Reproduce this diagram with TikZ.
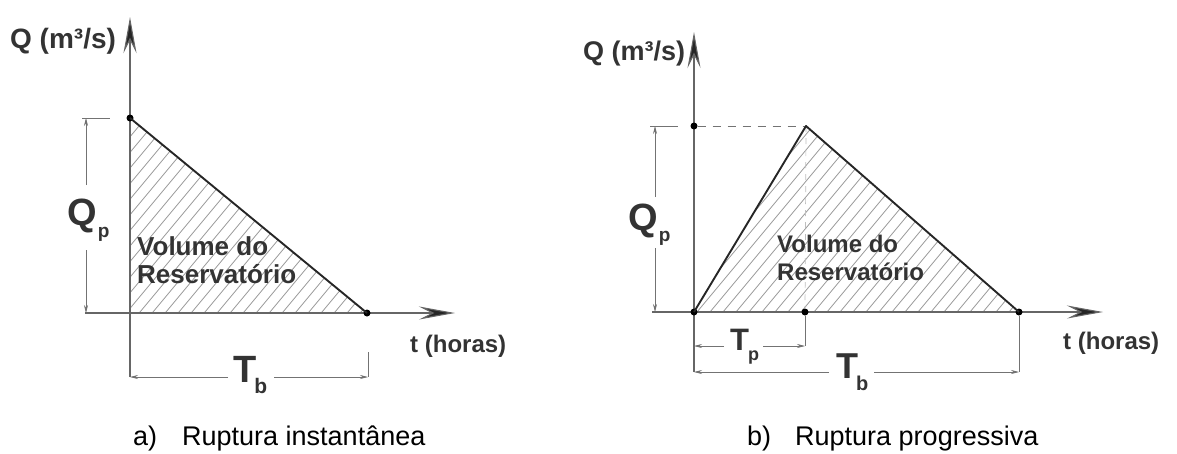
\documentclass[tikz,border=0pt]{standalone}
\usepackage{fontspec}
\setmainfont{Liberation Sans}
\usetikzlibrary{arrows.meta}
\begin{document}
\begin{tikzpicture}[x=1pt,y=-1pt,
  lbl/.style={inner sep=0pt, anchor=base west, text=black!80, font=\bfseries\fontsize{#1}{#1}\selectfont},
  captxt/.style={inner sep=0pt, anchor=base west, text=black, font=\fontsize{27}{27}\selectfont},
  axis/.style={draw=black!60, line width=1.1pt},
  axarrow/.style={-{Stealth[length=36pt,width=13pt,inset=13pt,fill=black!85]}},
  dim/.style={draw=black!55, line width=0.7pt},
  dimarrow/.style={dim, -{Stealth[length=8pt,width=4pt,fill=black!70]}},
  tri/.style={draw=black!85, line width=1.9pt, line join=round},
  hatch/.style={draw=black!40, line width=0.8pt},
  dot/.style={circle, fill=black, inner sep=0pt, minimum size=7pt},
  dashln/.style={draw=black!55, line width=0.8pt, dash pattern=on 8pt off 7pt},
  faint/.style={draw=black!25, line width=0.7pt, dash pattern=on 6pt off 6pt}
]
\useasboundingbox (0,0) rectangle (1177,453);

% ---------------- (a) ----------------
\coordinate (aYtop) at (130,17);
\coordinate (aYbot) at (130,377);
\coordinate (aXl) at (85,313);
\coordinate (aXr) at (455,313);
\coordinate (aO) at (130,313);
\coordinate (aQtick1) at (82,118);
\coordinate (aQtick2) at (110,118);
\coordinate (aQt) at (86,118);
\coordinate (aQm1) at (86,185);
\coordinate (aQm2) at (86,250);
\coordinate (aQb) at (86,313);
\coordinate (aTbl) at (130,377);
\coordinate (aTbm1) at (228,377);
\coordinate (aTbm2) at (274,377);
\coordinate (aTbr) at (368,377);
\coordinate (aExt) at (368,352);

% hatching
\begin{scope}
  \clip (130,118) -- (130,313) -- (367,313) -- cycle;
  \foreach \s in {-200,-187,...,380} \draw[hatch] (\s,330) -- ++(220,-264);
\end{scope}

\draw[axis,axarrow] (aYbot) -- (aYtop);
\draw[axis,axarrow] (aXl) -- (aXr);
\node[dot] (aP) at (130,118) {};
\node[dot] (aE) at (367,313) {};
\draw[tri] (aP.center) -- (aE.center);

\draw[dim] (aQtick1) -- (aQtick2);
\draw[dimarrow] (aQm1) -- (aQt);
\draw[dimarrow] (aQm2) -- (aQb);
\draw[dim] (aExt) -- (aTbr);
\draw[dimarrow] (aTbm1) -- (aTbl);
\draw[dimarrow] (aTbm2) -- (aTbr);

\node[lbl=28] (aQlab) at (10,48) {Q (m³/s)};
\node[lbl=38] (aQp) at (67,225) {Q\kern1pt\raisebox{-12pt}{\fontsize{19}{19}\selectfont p}};
\node[lbl=38] (aTb) at (233,382) {T\kern-2pt\raisebox{-11pt}{\fontsize{21}{21}\selectfont b}};
\node[lbl=26] (aVol1) at (137,255) {Volume do};
\node[lbl=26] (aVol2) at (137,283) {Reservatório};
\node[lbl=24] (at) at (410,352) {t (horas)};
\node[captxt] (acap) at (133,445) {\makebox[49pt][l]{a)}Ruptura instantânea};

% ---------------- (b) ----------------
\coordinate (bYtop) at (694,32);
\coordinate (bYbot) at (694,372);
\coordinate (bXl) at (652,312);
\coordinate (bXr) at (1103,312);
\coordinate (bQtick1) at (650,126);
\coordinate (bQtick2) at (678,126);
\coordinate (bQt) at (655,126);
\coordinate (bQm1) at (655,197);
\coordinate (bQm2) at (655,248);
\coordinate (bQb) at (655,312);
\coordinate (bTpl) at (694,346);
\coordinate (bTpm1) at (724,346);
\coordinate (bTpm2) at (763,346);
\coordinate (bTpr) at (805,346);
\coordinate (bTbl) at (694,372);
\coordinate (bTbm1) at (829,372);
\coordinate (bTbm2) at (874,372);
\coordinate (bTbr) at (1019,372);
\coordinate (bPk) at (806,126);

\begin{scope}
  \clip (694,312) -- (806,126) -- (1019,312) -- cycle;
  \foreach \s in {500,513,...,1040} \draw[hatch] (\s,330) -- ++(220,-264);
\end{scope}

\draw[axis,axarrow] (bYbot) -- (bYtop);
\draw[axis,axarrow] (bXl) -- (bXr);
\node[dot] (bPa) at (694,126) {};
\node[dot] (bO) at (694,312) {};
\node[dot] (bTp) at (805,312) {};
\node[dot] (bE) at (1019,312) {};
\draw[dashln] (bPa) -- (bPk);
\draw[faint] (bPk) -- (bTp);
\draw[tri] (bO.center) -- (bPk) -- (bE.center);

\draw[dim] (bQtick1) -- (bQtick2);
\draw[dimarrow] (bQm1) -- (bQt);
\draw[dimarrow] (bQm2) -- (bQb);
\draw[dim] (bTp) -- (bTpr);
\draw[dim] (bE) -- (bTbr);
\draw[dimarrow] (bTpm1) -- (bTpl);
\draw[dimarrow] (bTpm2) -- (bTpr);
\draw[dimarrow] (bTbm1) -- (bTbl);
\draw[dimarrow] (bTbm2) -- (bTbr);

\node[lbl=27] (bQlab) at (583,60) {Q (m³/s)};
\node[lbl=38] (bQp) at (628,230) {Q\kern1pt\raisebox{-11pt}{\fontsize{19}{19}\selectfont p}};
\node[lbl=31] (bTplab) at (730,350) {T\kern-1pt\raisebox{-10pt}{\fontsize{18}{18}\selectfont p}};
\node[lbl=36] (bTblab) at (836,378) {T\kern-2pt\raisebox{-12pt}{\fontsize{20}{20}\selectfont b}};
\node[lbl=24] (bVol1) at (777,252) {Volume do};
\node[lbl=24] (bVol2) at (777,280) {Reservatório};
\node[lbl=24] (bt) at (1063,349) {t (horas)};
\node[captxt] (bcap) at (747,445) {\makebox[48pt][l]{b)}Ruptura progressiva};
\end{tikzpicture}
\end{document}
